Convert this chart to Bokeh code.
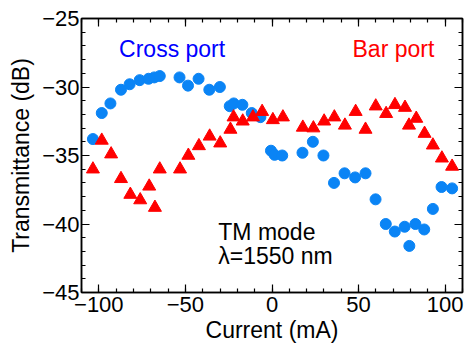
from bokeh.plotting import figure
from bokeh.models import LinearAxis, Range1d, Label, FixedTicker, CustomJSTickFormatter
from bokeh.embed import file_html
from bokeh.resources import INLINE

# Cross port (blue circles)
cross_current = [-103.4, -98.3, -93.3, -87.2, -82.2, -76.4, -71.3, -68.0, -64.8, -53.4,
                 -48.5, -42.4, -36.2, -30.1, -24.4, -22.1, -17.1, -11.7, -6.7, -0.6,
                 1.5, 5.9, 17.6, 23.6, 29.7, 35.8, 41.9, 48.0, 54.0, 59.8,
                 65.7, 70.9, 76.6, 79.3, 82.8, 87.9, 92.9, 97.9, 104.0]
cross_trans = [-33.8, -31.9, -31.2, -30.2, -29.8, -29.5, -29.4, -29.3, -29.2, -29.3,
               -29.9, -29.4, -30.2, -30.0, -31.4, -31.2, -31.3, -31.9, -32.2, -34.65,
               -34.95, -35.0, -34.8, -34.0, -35.0, -37.0, -36.3, -36.6, -36.3, -38.2,
               -40.0, -40.55, -40.2, -41.6, -40.0, -40.4, -38.9, -37.3, -37.4]

# Bar port (red triangles)
bar_current = [-103.4, -98.3, -92.9, -87.2, -81.8, -76.1, -70.9, -67.6, -64.8, -53.1,
               -48.3, -42.2, -36.0, -29.9, -24.0, -22.2, -16.9, -11.0, -5.7, 0.5,
               6.3, 17.8, 23.9, 30.1, 36.0, 42.1, 48.3, 54.0, 59.9, 65.9,
               71.0, 76.8, 79.1, 83.3, 88.1, 92.9, 98.1, 104.0]
bar_trans = [-36.0, -33.9, -34.9, -36.7, -37.85, -38.25, -37.25, -38.8, -36.0, -36.0,
             -35.0, -34.3, -33.6, -34.1, -33.1, -32.2, -32.5, -32.2, -31.8, -32.4,
             -32.2, -32.95, -33.0, -32.5, -32.2, -32.8, -31.8, -33.1, -31.4, -31.95,
             -31.3, -31.5, -32.8, -32.3, -33.4, -34.25, -35.2, -35.8]

x_ticks = [-100, -50, 0, 50, 100]
y_ticks = [-45, -40, -35, -30, -25]
x_minor = list(range(-110, 111, 10))
y_minor = list(range(-45, -24, 1))

FONT = "Liberation Sans"
TICK_SIZE = "22px"
LABEL_SIZE = "23px"

p = figure(frame_width=381, frame_height=274,
           x_range=Range1d(-110, 110), y_range=Range1d(-45, -25),
           output_backend="svg", toolbar_location=None,
           x_axis_label="Current (mA)", y_axis_label="Transmittance (dB)",
           min_border_left=81, min_border_top=18, min_border_bottom=54, min_border_right=3)
p.background_fill_color = "white"
p.border_fill_color = "white"
p.outline_line_color = "black"
p.outline_line_width = 1.5
p.xgrid.visible = False
p.ygrid.visible = False

p.xaxis.ticker = FixedTicker(ticks=x_ticks, minor_ticks=x_minor)
p.yaxis.ticker = FixedTicker(ticks=y_ticks, minor_ticks=y_minor)


def style_axis(ax):
    ax.axis_line_color = "black"
    ax.axis_line_width = 1.5
    ax.major_tick_line_color = "black"
    ax.minor_tick_line_color = "black"
    ax.major_tick_line_width = 1.2
    ax.minor_tick_line_width = 1.2
    ax.major_tick_in = 8
    ax.major_tick_out = 0
    ax.minor_tick_in = 4
    ax.minor_tick_out = 0
    ax.major_label_text_font = FONT
    ax.major_label_text_font_size = TICK_SIZE
    ax.major_label_text_color = "black"
    ax.axis_label_text_font = FONT
    ax.axis_label_text_font_size = LABEL_SIZE
    ax.axis_label_text_font_style = "normal"
    ax.axis_label_text_color = "black"


for ax in p.xaxis + p.yaxis:
    style_axis(ax)
p.xaxis.major_label_standoff = 4
p.yaxis.major_label_standoff = 2
p.xaxis.axis_label_standoff = 2
p.yaxis.axis_label_standoff = 5

blank = CustomJSTickFormatter(code="return '';")
top_ax = LinearAxis(ticker=FixedTicker(ticks=x_ticks, minor_ticks=x_minor), formatter=blank)
right_ax = LinearAxis(ticker=FixedTicker(ticks=y_ticks, minor_ticks=y_minor), formatter=blank)
for ax in (top_ax, right_ax):
    style_axis(ax)
    ax.major_label_standoff = 0
p.add_layout(top_ax, "above")
p.add_layout(right_ax, "right")

p.scatter(cross_current, cross_trans, marker="circle", size=11,
          fill_color="#0a84f5", line_color="#0a84f5")
p.scatter(bar_current, bar_trans, marker="triangle", size=13,
          fill_color="#ff0000", line_color="#ff0000")

for txt, x, y, col in [("Cross port", -88.3, -27.25, "#0000ff"),
                       ("Bar port", 46.5, -27.25, "#ff0000"),
                       ("TM mode", -31.0, -40.55, "black"),
                       ("\u03bb=1550 nm", -31.0, -42.35, "black")]:
    p.add_layout(Label(x=x, y=y, text=txt, text_font=FONT, text_font_size="23px",
                       text_color=col, text_baseline="alphabetic", text_align="left"))

open("out.html", "w").write(file_html(p, INLINE))
